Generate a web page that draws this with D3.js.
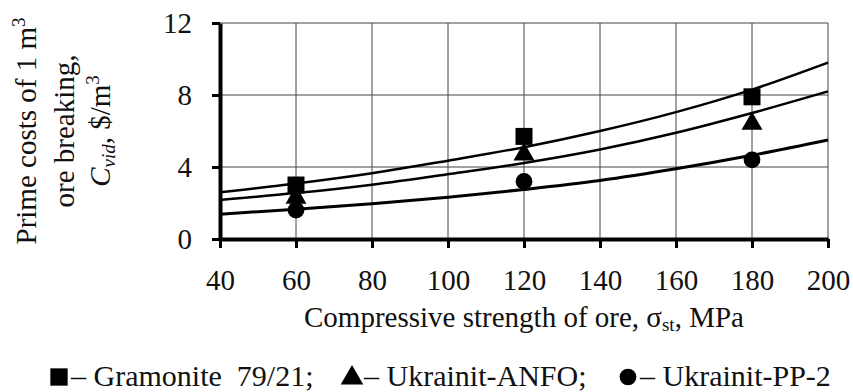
<!DOCTYPE html>
<html>
<head>
<meta charset="utf-8">
<script src="https://cdn.jsdelivr.net/npm/d3@7"></script>
<style>
  body { margin: 0; background: #fff; }
  svg text { fill: #111; }
</style>
</head>
<body>
<div id="chart"></div>
<script>
// measured points
const strength = [60, 120, 180];
const gramonite = [3.0, 5.7, 7.9];
const anfo = [2.3, 4.7, 6.4];
const pp2 = [1.6, 3.2, 4.4];

// trend lines at each x tick
const trendX = [40, 60, 80, 100, 120, 140, 160, 180, 200];
const gramoniteTrend = [2.6, 3.08, 3.65, 4.35, 5.1, 6.0, 7.05, 8.3, 9.8];
const anfoTrend = [2.17, 2.55, 3.02, 3.6, 4.22, 4.97, 5.9, 7.0, 8.2];
const pp2Trend = [1.38, 1.65, 1.96, 2.32, 2.75, 3.25, 3.9, 4.65, 5.5];

const xTicks = [40, 60, 80, 100, 120, 140, 160, 180, 200];
const yTicks = [0, 4, 8, 12];

const seriesNames = ['Gramonite  79/21;', 'Ukrainit-ANFO;', 'Ukrainit-PP-2'];

const serif = 'Liberation Serif';
const width = 853, height = 392;
const margin = {top: 23, right: 25, bottom: 153, left: 220};

const svg = d3.select('#chart').append('svg')
  .attr('width', width)
  .attr('height', height)
  .attr('font-family', serif);

const x = d3.scaleLinear().domain([40, 200]).range([margin.left, width - margin.right]);
const y = d3.scaleLinear().domain([0, 12]).range([height - margin.bottom, margin.top]);

// grid
svg.append('g')
  .selectAll('line')
  .data(xTicks.slice(1))
  .join('line')
  .attr('x1', d => x(d)).attr('x2', d => x(d))
  .attr('y1', y(0)).attr('y2', y(12))
  .style('stroke', '#444').style('stroke-width', 1);

svg.append('g')
  .selectAll('line')
  .data(yTicks.slice(1))
  .join('line')
  .attr('x1', x(40)).attr('x2', x(200))
  .attr('y1', d => y(d)).attr('y2', d => y(d))
  .style('stroke', '#444').style('stroke-width', 1);

// axes
const xAxis = svg.append('g')
  .attr('transform', `translate(0,${y(0)})`)
  .call(d3.axisBottom(x).tickValues(xTicks).tickSize(9).tickPadding(21).tickSizeOuter(0));
const yAxis = svg.append('g')
  .attr('transform', `translate(${x(40)},0)`)
  .call(d3.axisLeft(y).tickValues(yTicks).tickSize(8).tickPadding(20).tickSizeOuter(0));

[xAxis, yAxis].forEach(ax => {
  ax.attr('font-family', serif).attr('font-size', 29);
  ax.select('.domain').style('stroke', '#000').style('stroke-width', 4);
  ax.selectAll('.tick line').style('stroke', '#000').style('stroke-width', 3);
  ax.selectAll('.tick text')
    .attr('font-family', serif)
    .attr('font-size', 29);
});
xAxis.selectAll('.tick text').attr('dy', '0.71em');
yAxis.selectAll('.tick text').attr('dy', '0.34em');

// trend lines
const line = d3.line()
  .x((d, i) => x(trendX[i]))
  .y(d => y(d))
  .curve(d3.curveMonotoneX);

[[gramoniteTrend, 2.5], [anfoTrend, 2.5], [pp2Trend, 3]].forEach(([s, w]) => {
  svg.append('path')
    .attr('d', line(s))
    .style('fill', 'none')
    .style('stroke', '#000')
    .style('stroke-width', w);
});

// markers
const shapes = [d3.symbolSquare, d3.symbolTriangle, d3.symbolCircle];
const sizes = [289, 190, 220];
[gramonite, anfo, pp2].forEach((s, k) => {
  svg.append('g')
    .selectAll('path')
    .data(s)
    .join('path')
    .attr('d', d3.symbol().type(shapes[k]).size(sizes[k]))
    .attr('transform', (d, i) => `translate(${x(strength[i])},${y(d)})`)
    .style('fill', '#000');
});

// axis titles
svg.append('text')
  .attr('x', (x(40) + x(200)) / 2)
  .attr('y', 327)
  .attr('text-anchor', 'middle')
  .attr('font-family', serif)
  .attr('font-size', 29)
  .html('Compressive strength of ore, σ<tspan font-size="19" dy="4">st</tspan><tspan dy="-4">, MPa</tspan>');

const yMid = (y(0) + y(12)) / 2;
const ylab = svg.append('text')
  .attr('transform', `translate(0,${yMid}) rotate(-90)`)
  .attr('text-anchor', 'middle')
  .attr('font-family', serif)
  .attr('font-size', 29);
ylab.append('tspan').attr('x', 0).attr('y', 36)
  .html('Prime costs of 1 m<tspan font-size="19" dy="-11">3</tspan>');
ylab.append('tspan').attr('x', 0).attr('y', 74).text('ore breaking,');
ylab.append('tspan').attr('x', 0).attr('y', 110)
  .html('<tspan font-style="italic">C</tspan><tspan font-style="italic" font-size="19" dy="5">vid</tspan><tspan dy="-5">,  $/m</tspan><tspan font-size="19" dy="-11">3</tspan>');

// legend
const legendX = [59, 352, 628];
const legend = svg.append('g').attr('transform', 'translate(0,377)');
seriesNames.forEach((name, k) => {
  legend.append('path')
    .attr('d', d3.symbol().type(shapes[k]).size(k === 0 ? 300 : 220))
    .attr('transform', `translate(${legendX[k]},${k === 1 ? 1 : 0})`)
    .style('fill', '#000');
  legend.append('text')
    .attr('x', legendX[k] + 12)
    .attr('y', 9)
    .attr('font-family', serif)
    .attr('font-size', 30)
    .attr('xml:space', 'preserve')
    .text('– ' + name);
});
</script>
</body>
</html>
